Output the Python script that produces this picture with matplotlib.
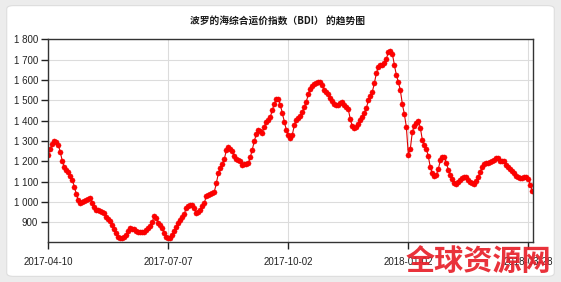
import matplotlib
matplotlib.use("Agg")
import matplotlib.pyplot as plt
from matplotlib.patches import FancyBboxPatch

plt.rcParams['font.family'] = ['Liberation Sans', 'Noto Sans CJK SC', 'DejaVu Sans']

title = '波罗的海综合运价指数（BDI） 的趋势图'
watermark = '全球资源网'

# BDI, one value per trading day starting 2017-04-10
bdi = [1232, 1262, 1285, 1298, 1296, 1280, 1246, 1200, 1173, 1158,
       1148, 1130, 1110, 1075, 1040, 1008, 997, 1000, 1005, 1010,
       1013, 1018, 995, 975, 962, 958, 955, 952, 945, 928,
       918, 908, 888, 865, 845, 829, 822, 823, 826, 838,
       855, 870, 869, 865, 858, 853, 851, 850, 852, 862,
       872, 884, 903, 930, 920, 898, 885, 872, 848, 830,
       824, 821, 836, 858, 876, 895, 912, 928, 942, 970,
       980, 985, 983, 970, 945, 952, 962, 980, 996, 1028,
       1035, 1040, 1043, 1050, 1092, 1140, 1165, 1185, 1210, 1255,
       1268, 1262, 1250, 1224, 1212, 1205, 1203, 1183, 1185, 1188,
       1190, 1220, 1258, 1300, 1333, 1354, 1348, 1340, 1370, 1394,
       1405, 1418, 1452, 1482, 1505, 1504, 1478, 1436, 1395, 1354,
       1330, 1313, 1330, 1378, 1405, 1412, 1422, 1444, 1466, 1493,
       1530, 1558, 1572, 1580, 1587, 1590, 1590, 1576, 1552, 1540,
       1530, 1512, 1498, 1484, 1478, 1476, 1485, 1492, 1478, 1465,
       1455, 1406, 1372, 1365, 1368, 1385, 1403, 1420, 1440, 1460,
       1500, 1520, 1542, 1583, 1633, 1663, 1672, 1676, 1683, 1702,
       1738, 1744, 1730, 1675, 1625, 1590, 1550, 1482, 1433, 1370,
       1232, 1262, 1345, 1372, 1390, 1398, 1366, 1305, 1280, 1262,
       1224, 1170, 1142, 1128, 1132, 1162, 1205, 1222, 1220, 1193,
       1158, 1135, 1115, 1093, 1088, 1098, 1110, 1120, 1125, 1122,
       1108, 1100, 1095, 1090, 1105, 1122, 1148, 1172, 1188, 1191,
       1194, 1197, 1201, 1208, 1214, 1215, 1200, 1202, 1203, 1183,
       1172, 1160, 1152, 1144, 1128, 1122, 1119, 1120, 1124, 1124,
       1111, 1083, 1055]

tick_pos = [0, 60, 120, 180, 240]
tick_labels = ['2017-04-10', '2017-07-07', '2017-10-02', '2018-01-02', '2018-03-28']
y_ticks = [900, 1000, 1100, 1200, 1300, 1400, 1500, 1600, 1700, 1800]
y_labels = ['900', '1 000', '1 100', '1 200', '1 300', '1 400', '1 500', '1 600', '1 700', '1 800']

fig = plt.figure(figsize=(5.61, 2.82), dpi=100, facecolor='#ececec')
card = FancyBboxPatch((0.012, 0.02), 0.976, 0.96, boxstyle='round,pad=0,rounding_size=0.012',
                      transform=fig.transFigure, facecolor='white', edgecolor='#dddddd', lw=0.8,
                      zorder=-10)
fig.add_artist(card)

ax = fig.add_axes([0.0854, 0.1418, 0.8653, 0.7188])
ax.set_zorder(1)
x = list(range(len(bdi)))
ax.plot(x, bdi, color='#e00000', lw=0.8, marker='o', markersize=3.7,
        markerfacecolor='#ff0000', markeredgecolor='#ee0000', markeredgewidth=0.3)

ax.set_xlim(-0.2, len(bdi) - 0.5)
ax.set_ylim(803, 1800)
ax.set_yticks(y_ticks)
ax.set_yticklabels(y_labels)
ax.set_xticks(tick_pos)
ax.set_xticklabels(tick_labels)
ax.grid(True, color='#dcdcdc', lw=0.8)
ax.set_axisbelow(True)
ax.tick_params(axis='both', labelsize=7, colors='#222222', length=5, width=1, pad=2)
ax.tick_params(axis='x', pad=6)
for s in ax.spines.values():
    s.set_color('#333333')
    s.set_linewidth(1)

fig.text(0.494, 0.928, title, ha='center', va='center', fontsize=7, fontweight='heavy',
         family=['Noto Sans CJK SC', 'DejaVu Sans'], color='#1a1a1a')
wm = fig.text(0.853, 0.074, watermark, ha='center', va='center', fontsize=21, fontweight='heavy',
              family=['Noto Sans CJK SC', 'DejaVu Sans'], color='#e8202a', alpha=0.92)
wm.set_zorder(5)

fig.savefig('out.png', dpi=100, facecolor=fig.get_facecolor())
